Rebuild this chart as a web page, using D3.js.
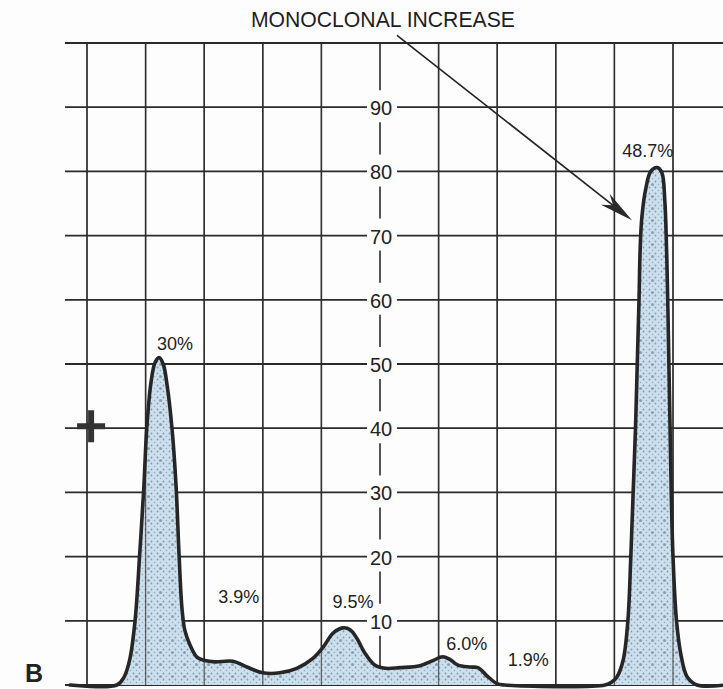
<!DOCTYPE html>
<html>
<head>
<meta charset="utf-8">
<script src="https://cdn.jsdelivr.net/npm/d3@7/dist/d3.min.js"></script>
<style>
  html, body { margin: 0; padding: 0; background: #fdfdfd; }
  svg { display: block; }
</style>
</head>
<body>
<svg id="chart" width="723" height="689"></svg>
<script>
// ---- Data (position u in grid units, value in chart units) ----
const traceU = [-0.29, 0.51, 0.63, 0.73, 0.82, 0.90, 0.97, 1.02, 1.09, 1.16, 1.23, 1.30, 1.37, 1.45, 1.52, 1.57, 1.62, 1.67, 1.76, 1.88, 2.01, 2.18, 2.49, 2.73, 3.00, 3.29, 3.58, 3.86, 4.03, 4.20, 4.37, 4.49, 4.61, 4.74, 4.91, 5.09, 5.34, 5.68, 5.90, 6.07, 6.19, 6.33, 6.54, 6.67, 6.83, 7.00, 7.13, 8.84, 8.96, 9.04, 9.15, 9.23, 9.28, 9.32, 9.36, 9.39, 9.42, 9.44, 9.47, 9.54, 9.62, 9.73, 9.81, 9.86, 9.89, 9.91, 9.93, 9.95, 9.97, 10.00, 10.06, 10.14, 10.24, 10.41, 10.89];
const traceV = [0, 0, 1.2, 4, 10, 20.5, 30.8, 40, 47, 50.2, 51, 50, 46.5, 40, 31, 20.5, 12, 8.5, 6.2, 4.3, 3.8, 3.6, 3.7, 2.8, 1.9, 1.9, 2.6, 4.2, 5.9, 8.1, 8.9, 8.6, 7.2, 5, 3.1, 2.6, 2.7, 3.0, 3.8, 4.4, 4.0, 3.1, 2.8, 2.7, 1.4, 0.2, 0, 0, 0.5, 1.2, 3.9, 10, 20, 30, 40, 50, 60, 68, 73, 77.5, 80, 80.6, 79.8, 75.5, 68, 60, 50, 40, 30, 20, 10, 4.5, 1.3, 0, 0];

const tickValues = [10, 20, 30, 40, 50, 60, 70, 80, 90];
const gridValues = [0, 10, 20, 30, 40, 50, 60, 70, 80, 90, 100];
const gridU = [0, 1, 2, 3, 4, 6, 7, 8, 9, 10];
const axisU = 5;

const fractionLabels = ["30%", "3.9%", "9.5%", "6.0%", "1.9%", "48.7%"];
const fractionU = [1.50, 2.59, 4.54, 6.48, 7.53, 9.57];
const fractionV = [52.2, 12.8, 12.0, 5.45, 2.96, 82.2];

const titleText = "MONOCLONAL INCREASE";
const titlePos = [5.05, 102.5];
const arrowFrom = [5.29, 101.2];
const arrowTo = [9.30, 72.4];
const plusPos = [0.07, 40.3];
const panelLabel = "B";
const panelPos = [-1.06, 0.4];

// ---- Scales ----
const x = d3.scaleLinear().domain([0, 10]).range([87, 673]);
const y = d3.scaleLinear().domain([0, 100]).range([685, 43]);

const svg = d3.select("#chart");
const ink = "#262626";
const defs = svg.append("defs");

// halftone fill pattern
const pat = defs.append("pattern").attr("id", "dots")
  .attr("patternUnits", "userSpaceOnUse").attr("width", 6).attr("height", 6);
pat.append("rect").attr("width", 6).attr("height", 6).attr("fill", "#cbe0ee");
pat.append("circle").attr("cx", 1.5).attr("cy", 1.5).attr("r", 0.9).attr("fill", "#8797a5");
pat.append("circle").attr("cx", 4.5).attr("cy", 4.5).attr("r", 0.8).attr("fill", "#9aa9b6");
const pat2 = defs.append("pattern").attr("id", "dots2")
  .attr("patternUnits", "userSpaceOnUse").attr("width", 12).attr("height", 12);
pat2.append("rect").attr("width", 12).attr("height", 12).attr("fill", "url(#dots)");
pat2.append("circle").attr("cx", 4.5).attr("cy", 4.5).attr("r", 1.6).attr("fill", "#8594a3").attr("opacity", 0.8);

const xLeft = 65, xRight = 723;
const gapL = 367, gapR = 397;

// horizontal grid lines
const hg = svg.append("g").attr("stroke", "#2a2a2a").attr("stroke-width", 1.8);
gridValues.forEach(v => {
  if (tickValues.includes(v)) {
    hg.append("line").attr("x1", xLeft).attr("x2", gapL).attr("y1", y(v)).attr("y2", y(v));
    hg.append("line").attr("x1", gapR).attr("x2", xRight).attr("y1", y(v)).attr("y2", y(v));
  } else {
    hg.append("line").attr("x1", xLeft).attr("x2", xRight).attr("y1", y(v)).attr("y2", y(v));
  }
});

// vertical grid lines
const vg = svg.append("g").attr("stroke", "#2e2e2e").attr("stroke-width", 1.5);
gridU.forEach(u => {
  vg.append("line").attr("x1", x(u)).attr("x2", x(u)).attr("y1", y(100)).attr("y2", y(0));
});

// central axis segments (broken around labels)
const ag = svg.append("g").attr("stroke", "#2a2a2a").attr("stroke-width", 1.6);
const axisStops = [100].concat(tickValues.slice().reverse(), [0]);
for (let i = 0; i < axisStops.length - 1; i++) {
  const a = axisStops[i], b = axisStops[i + 1];
  const y1 = y(a) + (a === 100 ? 0 : 15);
  const y2 = y(b) - (b === 0 ? 0 : 17);
  ag.append("line").attr("x1", x(axisU)).attr("x2", x(axisU)).attr("y1", y1).attr("y2", y2);
}

// tick labels
svg.append("g").selectAll("text").data(tickValues).join("text")
  .attr("x", x(axisU) + 1).attr("y", d => y(d) + 8)
  .attr("text-anchor", "middle")
  .attr("font-family", "Liberation Sans, Arial, sans-serif")
  .attr("font-size", 20).attr("fill", "#222")
  .text(d => d);

// trace
const pts = traceU.map((u, i) => [u, traceV[i]]);
const curve = d3.curveCatmullRom.alpha(0.5);
const area = d3.area().x(d => x(d[0])).y0(y(0)).y1(d => y(d[1])).curve(curve);
const line = d3.line().x(d => x(d[0])).y(d => y(d[1])).curve(curve);

svg.append("path").datum(pts).attr("d", area).attr("fill", "url(#dots2)");
// redraw vertical grid lines faintly over fill (they show through in the reference)
const vg2 = svg.append("g").attr("stroke", "#2e2e2e").attr("stroke-width", 1.3).attr("opacity", 0.7);
gridU.forEach(u => {
  vg2.append("line").attr("x1", x(u)).attr("x2", x(u)).attr("y1", y(100)).attr("y2", y(0));
});
svg.append("path").datum(pts).attr("d", line)
  .attr("fill", "none").attr("stroke", ink).attr("stroke-width", 3.6)
  .attr("stroke-linejoin", "round").attr("stroke-linecap", "round");

// fraction labels
svg.append("g").selectAll("text").data(fractionLabels).join("text")
  .attr("x", (d, i) => x(fractionU[i])).attr("y", (d, i) => y(fractionV[i]))
  .attr("text-anchor", "middle")
  .attr("font-family", "Liberation Sans, Arial, sans-serif")
  .attr("font-size", 18).attr("fill", "#222")
  .text(d => d);

// title
svg.append("text").attr("x", x(titlePos[0])).attr("y", y(titlePos[1]))
  .attr("text-anchor", "middle")
  .attr("font-family", "Liberation Sans, Arial, sans-serif")
  .attr("font-size", 22).attr("fill", "#1e1e1e")
  .attr("textLength", 264).attr("lengthAdjust", "spacingAndGlyphs")
  .text(titleText);

// arrow
const ax1 = x(arrowFrom[0]), ay1 = y(arrowFrom[1]);
const ax2 = x(arrowTo[0]), ay2 = y(arrowTo[1]);
const dx = ax2 - ax1, dy = ay2 - ay1, len = Math.hypot(dx, dy);
const ux = dx / len, uy = dy / len, nx = -uy, ny = ux;
svg.append("line").attr("x1", ax1).attr("y1", ay1)
  .attr("x2", ax2 - ux * 20).attr("y2", ay2 - uy * 20)
  .attr("stroke", "#222").attr("stroke-width", 1.6);
const L = 34, W = 7, N = 24;
const head = [
  [ax2, ay2],
  [ax2 - ux * L + nx * W, ay2 - uy * L + ny * W],
  [ax2 - ux * N, ay2 - uy * N],
  [ax2 - ux * L - nx * W, ay2 - uy * L - ny * W]
];
svg.append("path").attr("d", "M" + head.map(p => p.join(",")).join("L") + "Z")
  .attr("fill", "#2a2a2a");

// plus sign
const px = x(plusPos[0]), py = y(plusPos[1]);
svg.append("path")
  .attr("d", `M${px - 14},${py}H${px + 14}M${px},${py - 16}V${py + 16}`)
  .attr("stroke", "#333").attr("stroke-width", 6).attr("fill", "none");

// panel label
svg.append("text").attr("x", x(panelPos[0])).attr("y", y(panelPos[1]))
  .attr("font-family", "Liberation Sans, Arial, sans-serif")
  .attr("font-size", 25).attr("font-weight", "bold").attr("fill", "#222")
  .text(panelLabel);
</script>
</body>
</html>
